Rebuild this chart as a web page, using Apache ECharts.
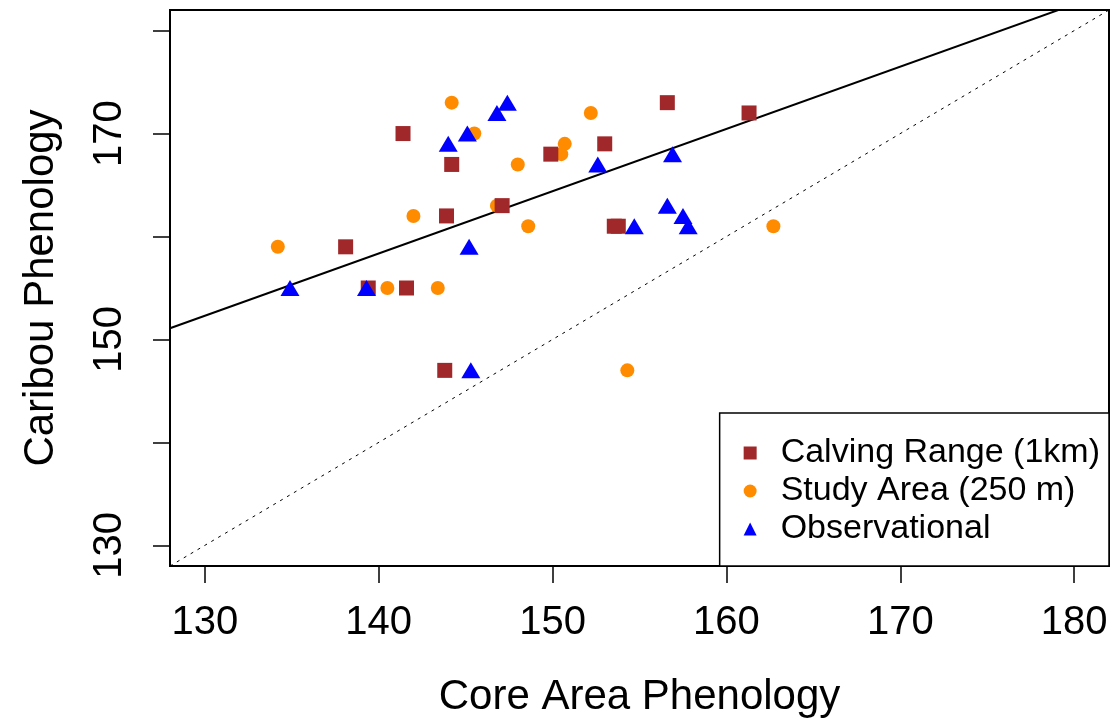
<!DOCTYPE html>
<html>
<head>
<meta charset="utf-8">
<script src="https://cdn.jsdelivr.net/npm/echarts@6/dist/echarts.min.js"></script>
<style>
  html, body { margin: 0; padding: 0; background: #fff; }
  #chart { width: 1113px; height: 725px; }
</style>
</head>
<body>
<div id="chart"></div>
<script>
// Phenology dates: core area (x) vs caribou (y), three data sources
const calvingRange = [
  [141.4, 170], [144.2, 167], [143.9, 162], [138.1, 159], [139.4, 155],
  [141.6, 155], [156.6, 173], [161.3, 172], [153.0, 169], [149.9, 168],
  [147.1, 163], [153.55, 161], [153.78, 161], [143.8, 147]
];
const studyArea = [
  [144.2, 173], [145.5, 170], [142.0, 162], [134.2, 159], [140.5, 155],
  [143.4, 155], [152.2, 172], [150.7, 169], [150.5, 168], [148.0, 167],
  [146.8, 163], [148.6, 161], [162.7, 161], [154.3, 147]
];
const observational = [
  [145.1, 170], [144.0, 169], [145.2, 159], [134.9, 155], [139.3, 155],
  [147.4, 173], [146.8, 172], [152.6, 167], [156.9, 168], [154.7, 161],
  [156.6, 163], [157.5, 162], [157.8, 161], [145.3, 147]
];

// Fitted regression line: y = intercept + slope * x
const fitIntercept = 73.65;
const fitSlope = 0.605;

// Axis range and ticks
const axisRange = [128, 182];
const xTicks = [130, 140, 150, 160, 170, 180];
const yTicks = [130, 140, 150, 160, 170, 180];
const yLabels = [130, 150, 170];

const seriesNames = ['Calving Range (1km)', 'Study Area (250 m)', 'Observational'];

const fitLine = axisRange.map(x => [x, fitIntercept + fitSlope * x]);
const identityLine = axisRange.map(x => [x, x]);

const FONT = '"Liberation Sans", Arial, Helvetica, sans-serif';

const chart = echarts.init(document.getElementById('chart'), null, { renderer: 'canvas' });

const axisCommon = {
  type: 'value',
  min: axisRange[0],
  max: axisRange[1],
  splitLine: { show: false },
  axisLine: { show: true, onZero: false, lineStyle: { color: '#000', width: 2 } },
  axisTick: { show: true, length: 17, lineStyle: { color: '#000', width: 1.5 } },
  nameLocation: 'middle',
  nameTextStyle: { color: '#000', fontSize: 42, fontFamily: FONT }
};

chart.setOption({
  backgroundColor: '#fff',
  animation: false,
  grid: {
    left: 170, right: 4, top: 10, bottom: 159,
    show: true, borderColor: '#000', borderWidth: 2, backgroundColor: 'transparent'
  },
  xAxis: Object.assign({}, axisCommon, {
    name: 'Core Area Phenology',
    nameGap: 110,
    axisTick: Object.assign({}, axisCommon.axisTick, { customValues: xTicks }),
    axisLabel: {
      customValues: xTicks, color: '#000', fontSize: 40, fontFamily: FONT, margin: 37
    }
  }),
  yAxis: Object.assign({}, axisCommon, {
    name: 'Caribou Phenology',
    nameGap: 108,
    nameRotate: 90,
    axisTick: Object.assign({}, axisCommon.axisTick, { customValues: yTicks }),
    axisLabel: {
      customValues: yLabels, rotate: 90, color: '#000', fontSize: 40, fontFamily: FONT, margin: 40
    }
  }),
  legend: {
    data: [
      { name: seriesNames[0], icon: 'rect' },
      { name: seriesNames[1], icon: 'circle' },
      { name: seriesNames[2], icon: 'triangle' }
    ],
    orient: 'vertical',
    right: 4,
    bottom: 159,
    itemWidth: 13,
    itemHeight: 13,
    itemGap: 4,
    padding: [23, 9, 20, 24],
    borderColor: '#000',
    borderWidth: 1.5,
    backgroundColor: '#fff',
    selectedMode: false,
    textStyle: { color: '#000', fontSize: 34, fontFamily: FONT, padding: [0, 0, 0, 19] }
  },
  series: [
    {
      name: seriesNames[0], type: 'scatter', data: calvingRange, z: 3,
      symbol: 'rect', symbolSize: 15, itemStyle: { color: '#A0282A', opacity: 1 }
    },
    {
      name: seriesNames[1], type: 'scatter', data: studyArea, z: 2,
      symbol: 'circle', symbolSize: 14, itemStyle: { color: '#FF8C00', opacity: 1 }
    },
    {
      name: seriesNames[2], type: 'scatter', data: observational, z: 4,
      symbol: 'triangle', symbolSize: [19, 16], itemStyle: { color: '#0000FF', opacity: 1 }
    },
    {
      type: 'line', data: fitLine, symbol: 'none', clip: true, silent: true, z: 1,
      lineStyle: { color: '#000', width: 2 }
    },
    {
      type: 'line', data: identityLine, symbol: 'none', clip: true, silent: true, z: 1,
      lineStyle: { color: '#000', width: 1, type: [3, 5] }
    }
  ]
});
</script>
</body>
</html>
